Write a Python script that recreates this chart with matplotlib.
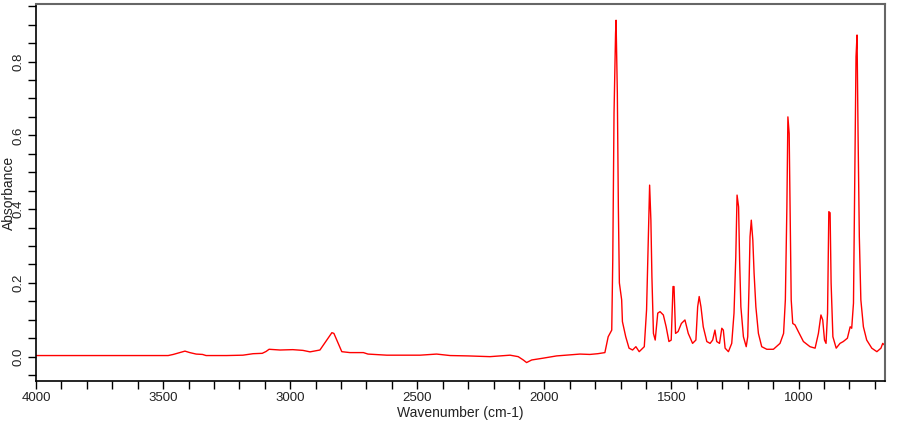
import matplotlib
matplotlib.use("Agg")
import matplotlib.pyplot as plt
from matplotlib.ticker import MultipleLocator

plt.rcParams['font.family'] = ['Liberation Sans', 'DejaVu Sans']

# IR spectrum (wavenumber in cm-1, absorbance)
wavenumber = [4000, 3480, 3460, 3440, 3414, 3395, 3370, 3345, 3331, 3250, 3186, 3146,
              3110, 3095, 3083, 3040, 2990, 2950, 2922, 2883, 2856, 2836, 2828, 2811,
              2797, 2765, 2712, 2694, 2620, 2489, 2424, 2371, 2300, 2214, 2135, 2103,
              2083, 2070, 2050, 2004, 1952, 1860, 1821, 1790, 1762, 1749, 1735, 1731,
              1726, 1720, 1718, 1713, 1709, 1705, 1696, 1693, 1680, 1667, 1653, 1640,
              1627, 1607, 1598, 1590, 1586, 1581, 1577, 1571, 1564, 1554, 1545, 1532,
              1521, 1510, 1501, 1494, 1490, 1484, 1474, 1461, 1447, 1434, 1417, 1404,
              1397, 1391, 1384, 1375, 1361, 1348, 1338, 1329, 1322, 1311, 1302, 1296,
              1289, 1276, 1263, 1254, 1247, 1242, 1236, 1232, 1227, 1217, 1206, 1200,
              1195, 1191, 1186, 1180, 1175, 1168, 1158, 1145, 1125, 1099, 1073, 1059,
              1052, 1046, 1042, 1037, 1033, 1029, 1023, 1014, 1001, 981, 955, 935,
              922, 912, 905, 898, 892, 886, 881, 876, 872, 865, 852, 837,
              824, 808, 797, 791, 784, 779, 774, 770, 766, 761, 755, 745,
              732, 712, 692, 676, 669, 663, 660]
absorbance = [0.003, 0.003, 0.006, 0.010, 0.015, 0.011, 0.007, 0.006, 0.003, 0.003, 0.004, 0.008,
              0.009, 0.014, 0.020, 0.018, 0.019, 0.017, 0.013, 0.018, 0.045, 0.065, 0.063, 0.036,
              0.0135, 0.011, 0.011, 0.007, 0.004, 0.004, 0.007, 0.003, 0.002, 0.000, 0.004, 0.000,
              -0.009, -0.016, -0.009, -0.004, 0.002, 0.007, 0.006, 0.008, 0.011, 0.054, 0.072, 0.262,
              0.66, 0.876, 0.912, 0.714, 0.406, 0.20, 0.154, 0.095, 0.054, 0.023, 0.018, 0.027,
              0.0135, 0.027, 0.127, 0.352, 0.465, 0.37, 0.217, 0.063, 0.045, 0.118, 0.122, 0.113,
              0.081, 0.041, 0.045, 0.19, 0.19, 0.063, 0.068, 0.09, 0.0995, 0.063, 0.036, 0.045,
              0.135, 0.163, 0.135, 0.081, 0.041, 0.036, 0.045, 0.072, 0.041, 0.036, 0.077, 0.072,
              0.023, 0.0135, 0.036, 0.118, 0.271, 0.438, 0.406, 0.262, 0.135, 0.054, 0.027, 0.054,
              0.19, 0.325, 0.37, 0.316, 0.226, 0.135, 0.063, 0.027, 0.02, 0.02, 0.036, 0.063,
              0.154, 0.406, 0.65, 0.605, 0.37, 0.154, 0.09, 0.086, 0.068, 0.041, 0.027, 0.023,
              0.063, 0.113, 0.0995, 0.045, 0.036, 0.118, 0.393, 0.39, 0.199, 0.054, 0.023, 0.036,
              0.041, 0.05, 0.081, 0.077, 0.145, 0.479, 0.813, 0.872, 0.605, 0.325, 0.154, 0.081,
              0.045, 0.023, 0.0135, 0.023, 0.036, 0.032, 0.034]

fig = plt.figure(figsize=(9.1, 4.25), dpi=100)
ax = fig.add_axes([36 / 910, 1 - 381 / 425, 849 / 910, 377 / 425])

ax.plot(wavenumber, absorbance, color='#ff0000', linewidth=1.0)

ax.set_xlim(4000, 660)
ax.set_ylim(-0.066, 0.956)

ax.xaxis.set_major_locator(MultipleLocator(500))
ax.xaxis.set_minor_locator(MultipleLocator(100))
ax.yaxis.set_major_locator(MultipleLocator(0.2))
ax.yaxis.set_minor_locator(MultipleLocator(0.05))
ax.yaxis.set_major_formatter(plt.FuncFormatter(lambda v, p: f"{v:.1f}"))

ax.tick_params(which='both', direction='out', length=6, width=1, color='black',
               labelsize=9.5, labelcolor='#222222')
ax.tick_params(axis='x', pad=2)
ax.tick_params(axis='y', pad=2)
for lab in ax.get_yticklabels():
    lab.set_rotation(90)
    lab.set_va('center')

for side in ['left', 'bottom']:
    ax.spines[side].set_color('black')
    ax.spines[side].set_linewidth(1.2)
for side in ['top', 'right']:
    ax.spines[side].set_color('#666666')
    ax.spines[side].set_linewidth(1.5)

ax.set_xlabel('Wavenumber (cm-1)', fontsize=10, color='#222222', labelpad=1)
ax.set_ylabel('Absorbance', fontsize=10, color='#222222')
ax.yaxis.set_label_coords(-0.0235, 0.5)

fig.savefig('out.png', dpi=100)
